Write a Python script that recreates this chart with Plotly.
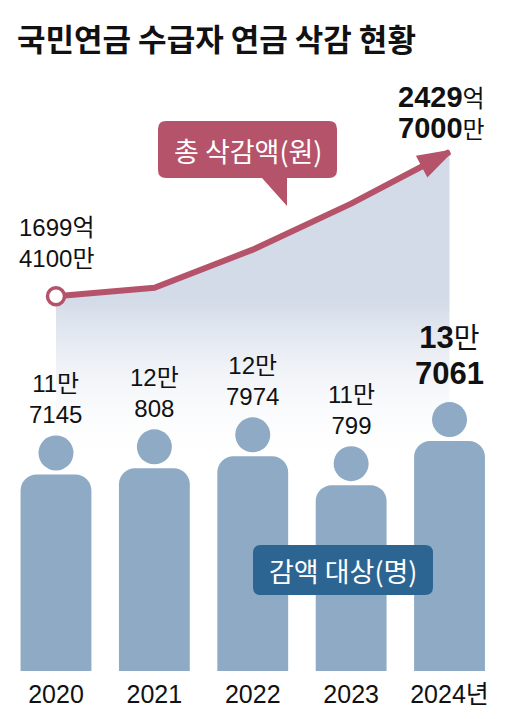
import plotly.graph_objects as go

# ---------------- data ----------------
years = ["2020", "2021", "2022", "2023", "2024년"]
# total reduction amount (억원)
total_cut_eok = [1699.41, 1742.0, 1935.0, 2168.0, 2429.70]
# number of people with reduced pension (명)
people = [117145, 120808, 127974, 110799, 137061]

# ---------------- styles ----------------
ROSE = "#b5536a"
NAVY = "#2d6592"
BODY = "#8eaac5"
FILL = "#d3dbe8"
INK = "#111111"
W, H = 518, 719
PLOT_H = 671          # plot area height (margin bottom = 48)
Y1_RANGE = [-200, 3200]
Y2_RANGE = [0, 400000]
KR = "Noto Sans CJK KR"
NUM = "Liberation Sans, Noto Sans CJK KR"

idx = list(range(len(years)))
px_per_person = PLOT_H / (Y2_RANGE[1] - Y2_RANGE[0])
px_per_eok = PLOT_H / (Y1_RANGE[1] - Y1_RANGE[0])
HEAD_PX = 35
head_offset = (4 + HEAD_PX / 2) / px_per_person


def y1_at_pixel(p):
    return Y1_RANGE[0] + (PLOT_H - p) / px_per_eok


def px(x):
    return x / W


def py(y):
    return (PLOT_H - y) / PLOT_H


def rounded_path(x0, y0, x1, y1, r, tail=None):
    pts = [("M", [(x0 + r, y0)]), ("L", [(x1 - r, y0)]), ("Q", [(x1, y0), (x1, y0 + r)]),
           ("L", [(x1, y1 - r)]), ("Q", [(x1, y1), (x1 - r, y1)])]
    if tail:
        for t in tail:
            pts.append(("L", [t]))
    pts += [("L", [(x0 + r, y1)]), ("Q", [(x0, y1), (x0, y1 - r)]),
            ("L", [(x0, y0 + r)]), ("Q", [(x0, y0), (x0 + r, y0)])]
    s = ""
    for cmd, ps in pts:
        s += cmd + " ".join(f"{px(a):.5f},{py(b):.5f}" for a, b in ps)
    return s + "Z"


fig = go.Figure()

# gradient area under the amount line
fig.add_trace(go.Scatter(
    x=idx, y=total_cut_eok, mode="none", fill="tozeroy",
    fillgradient=dict(type="vertical",
                      colorscale=[[0, "rgba(255,255,255,0)"], [1, FILL]],
                      start=y1_at_pixel(470), stop=y1_at_pixel(300)),
    hoverinfo="skip", showlegend=False))

# amount line with arrow end
n = len(idx)
fig.add_trace(go.Scatter(
    x=idx, y=total_cut_eok, mode="lines+markers",
    line=dict(color=ROSE, width=6),
    marker=dict(symbol="arrow", opacity=1,
                size=[0] * (n - 1) + [31],
                color=ROSE,
                line=dict(color=ROSE, width=[0] * (n - 1) + [4]),
                angleref="previous"),
    hoverinfo="skip", showlegend=False))

# open circle at the start of the line
fig.add_trace(go.Scatter(
    x=idx[:1], y=total_cut_eok[:1], mode="markers",
    marker=dict(symbol="circle", size=17, color="white", opacity=1,
                line=dict(color=ROSE, width=3.5)),
    hoverinfo="skip", showlegend=False))

# person bodies
fig.add_trace(go.Bar(
    x=idx, y=people, width=0.72, yaxis="y2",
    marker=dict(color=BODY, cornerradius=16, line=dict(width=0)),
    hoverinfo="skip", showlegend=False))

# person heads
fig.add_trace(go.Scatter(
    x=idx, y=[v + head_offset for v in people], yaxis="y2", mode="markers",
    marker=dict(size=HEAD_PX, color=BODY, opacity=1, line=dict(width=0)),
    hoverinfo="skip", showlegend=False))

annotations = []
# title
annotations.append(dict(
    xref="paper", yref="paper", x=px(15), y=py(37), xanchor="left", yanchor="middle",
    text="<b>국민연금 수급자 연금 삭감 현황</b>", showarrow=False,
    font=dict(family=KR, size=31, color=INK)))

# people labels
for i, v in enumerate(people):
    man, rest = divmod(v, 10000)
    if i == n - 1:
        txt = (f"<span style='font-weight:bold;font-size:31px'>{man}</span>만<br>"
               f"<span style='font-weight:bold;font-size:31px'>{rest}</span>")
        annotations.append(dict(x=i, y=v, xref="x", yref="y2", yanchor="bottom",
                                yshift=48, showarrow=False, text=txt,
                                font=dict(family=NUM, size=28, color=INK)))
    else:
        txt = f"{man}만<br>{rest}"
        annotations.append(dict(x=i, y=v, xref="x", yref="y2", yanchor="bottom",
                                yshift=44, showarrow=False, text=txt,
                                font=dict(family=NUM, size=24, color=INK)))


def eok_text(v, bold=False):
    eok = int(v)
    man = int(round((v - eok) * 10000))
    if bold:
        return (f"<span style='font-weight:bold;font-size:29px'>{eok}</span>억<br>"
                f"<span style='font-weight:bold;font-size:29px'>{man}</span>만")
    return f"{eok}억<br>{man}만"


annotations.append(dict(x=0, y=total_cut_eok[0], xref="x", yref="y", xanchor="left",
                        yanchor="bottom", xshift=-39, yshift=22, showarrow=False,
                        align="left", text=eok_text(total_cut_eok[0]),
                        font=dict(family=NUM, size=24, color=INK)))
annotations.append(dict(x=n - 1, y=total_cut_eok[-1], xref="x", yref="y", xanchor="center",
                        yanchor="bottom", xshift=-8, yshift=6, showarrow=False,
                        align="left", text=eok_text(total_cut_eok[-1], bold=True),
                        font=dict(family=NUM, size=24, color=INK)))

# callout texts
annotations.append(dict(xref="paper", yref="paper", x=px(248), y=py(150),
                        xanchor="center", yanchor="middle", showarrow=False,
                        text="총 삭감액(원)", font=dict(family=KR, size=27, color="white")))
annotations.append(dict(xref="paper", yref="paper", x=px(343), y=py(570),
                        xanchor="center", yanchor="middle", showarrow=False,
                        text="감액 대상(명)", font=dict(family=KR, size=27, color="white")))

shapes = [
    dict(type="path", xref="paper", yref="paper", layer="above",
         path=rounded_path(158, 121, 337, 178, 8, tail=[(287, 178), (287, 206), (262, 178)]),
         fillcolor=ROSE, line=dict(width=0)),
    dict(type="path", xref="paper", yref="paper", layer="above",
         path=rounded_path(253, 545, 433, 595, 8),
         fillcolor=NAVY, line=dict(width=0)),
]

fig.update_layout(
    width=W, height=H,
    margin=dict(l=0, r=0, t=0, b=H - PLOT_H),
    paper_bgcolor="white", plot_bgcolor="white",
    showlegend=False,
    xaxis=dict(range=[-0.569, 4.696], tickvals=idx, ticktext=years,
               tickfont=dict(family=NUM, size=25, color=INK),
               showgrid=False, zeroline=False, showline=False, ticks="",
               ticklabelstandoff=6, fixedrange=True),
    yaxis=dict(range=Y1_RANGE, visible=False, fixedrange=True),
    yaxis2=dict(range=Y2_RANGE, overlaying="y", visible=False, fixedrange=True),
    annotations=annotations,
    shapes=shapes,
)

fig.write_html("out.html", config={"displayModeBar": False},
               post_script="document.body.style.margin='0px';")
